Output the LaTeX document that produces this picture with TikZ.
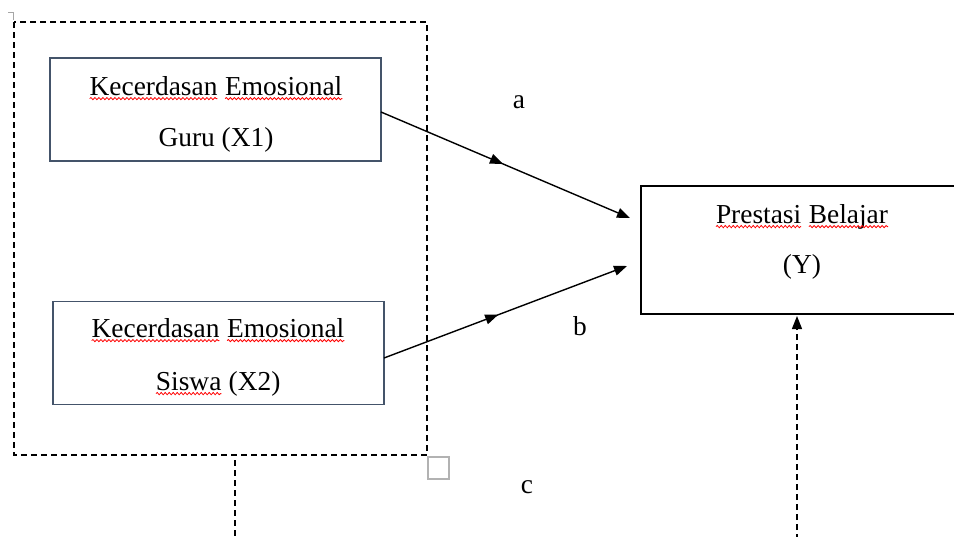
\documentclass[tikz,border=0pt]{standalone}
\usepackage{fontspec}
\setmainfont{Liberation Serif}
\usetikzlibrary{arrows.meta,decorations.markings,decorations.pathmorphing}
\newcommand\spellwave[1]{\tikz[baseline=(w.base)]{\node[inner sep=0pt, outer sep=0pt] (w) {#1};
  \draw[red, line width=0.4pt, decorate, decoration={snake, amplitude=0.55pt, segment length=2pt}]
    ([yshift=-1.8pt]w.base west) -- ([yshift=-1.8pt]w.base east);}}
\definecolor{boxblue}{RGB}{68,84,106}
\tikzset{
  varbox/.style={draw=boxblue, line width=0.75pt, minimum width=165.5pt, minimum height=51.5pt, inner sep=0pt},
  txt/.style={anchor=base, inner sep=0pt, font=\fontsize{13.7}{16}\selectfont},
  flow/.style={line width=0.7pt, -{Triangle[length=6.5pt,width=5pt]}},
  dashline/.style={line width=0.7pt, dash pattern=on 3pt off 2pt},
}
\begin{document}
\begin{tikzpicture}[x=0.5pt, y=-0.5pt]
  \useasboundingbox (0,0) rectangle (954,536);
  % group frame
  \draw[dashline] (14,22) rectangle (427,455);
  \draw[gray!70, line width=0.5pt] (8,12) -- (13,12) -- (13,20);
  \draw[gray!60, line width=0.6pt] (428,457) rectangle (449,479);
  % variables
  \node[varbox] (x1) at (215.5,109.5) {};
  \node[varbox] (x2) at (218.5,353) {};
  \draw[line width=0.75pt] (641,186) rectangle (960,314);
  \node[inner sep=0pt, minimum width=156pt, minimum height=64pt] (y) at (797.5,250) {};
  \node[txt] (x1a) at (216,95) {\spellwave{Kecerdasan} \spellwave{Emosional}};
  \node[txt] (x1b) at (216,146) {Guru (X1)};
  \node[txt] (x2a) at (218,337) {\spellwave{Kecerdasan} \spellwave{Emosional}};
  \node[txt] (x2b) at (218,390) {\spellwave{Siswa} (X2)};
  \node[txt] (ya) at (802,223) {\spellwave{Prestasi} \spellwave{Belajar}};
  \node[txt] (yb) at (802,273) {(Y)};
  % paths
  \coordinate (x1out) at (381,112);
  \coordinate (x2out) at (384,358);
  \coordinate (yin1) at (630,218);
  \coordinate (yin2) at (627,266);
  \draw[flow, postaction={decorate}, decoration={markings, mark=at position 0.49 with {\arrow{Triangle[length=6.5pt,width=5pt]}}}] (x1out) -- (yin1);
  \draw[flow, postaction={decorate}, decoration={markings, mark=at position 0.47 with {\arrow{Triangle[length=6.5pt,width=5pt]}}}] (x2out) -- (yin2);
  \coordinate (c1) at (235,460);
  \coordinate (c2) at (235,540);
  \coordinate (c3) at (797,540);
  \coordinate (c4) at (797,316);
  \draw[dashline] (c1) -- (c2);
  \draw[dashline, -{Triangle[length=6.5pt,width=5pt]}] (c3) -- (c4);
  \node[txt] (la) at (519,108) {a};
  \node[txt] (lb) at (580,335) {b};
  \node[txt] (lc) at (527,493) {c};
\end{tikzpicture}
\end{document}
